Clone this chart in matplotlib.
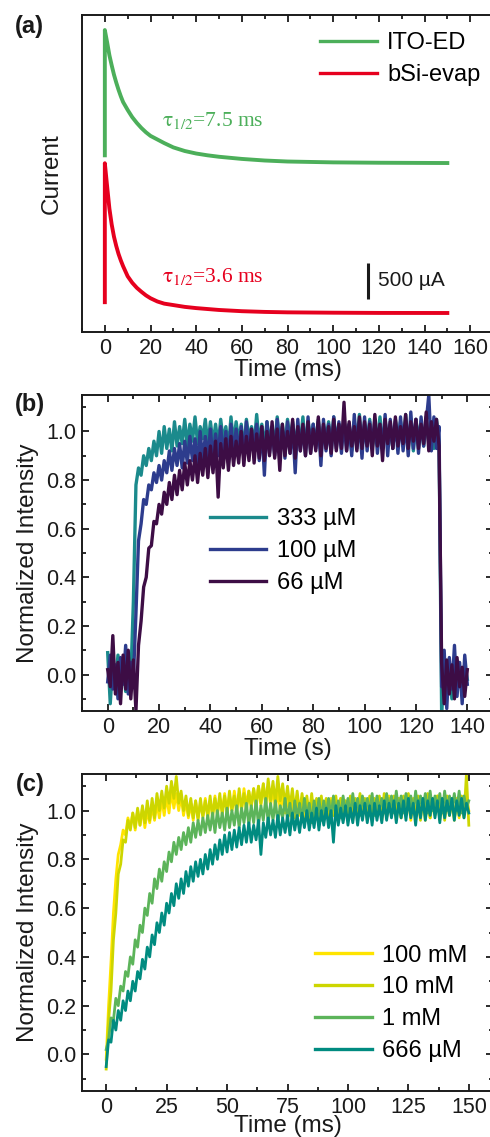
import numpy as np
import matplotlib
matplotlib.use('Agg')
import matplotlib.pyplot as plt
from matplotlib.ticker import MultipleLocator

# ---------------- data: panel (a) ----------------
a_time = [0, 0, 1, 2, 3, 4, 5, 6, 7, 8, 10, 12, 14, 16, 18, 20, 23, 26, 30, 35,
          40, 45, 50, 60, 70, 80, 100, 120, 150]
a_ito = [2190, 3930, 3760, 3580, 3440, 3310, 3200, 3100, 3010, 2930, 2820, 2720,
         2640, 2570, 2510, 2460, 2410, 2360, 2300, 2250, 2215, 2190, 2170, 2140,
         2118, 2104, 2092, 2087, 2083]
a_bsi = [150, 2080, 1760, 1450, 1230, 1060, 930, 820, 730, 650, 510, 420, 350,
         295, 245, 205, 160, 130, 110, 85, 68, 55, 42, 25, 15, 9, 4, 1, 0]
a_labels = ['ITO-ED', 'bSi-evap']
a_tau = ['7.5', '3.6']

# ---------------- data: panel (b) ----------------
b_time = np.arange(0, 141)
b_333 = [0.09, -0.12, 0.05, -0.05, 0.08, -0.04, 0.06, -0.07, 0.04, -0.02,
         0.30, 0.78, 0.85, 0.82, 0.90, 0.86, 0.93, 0.88, 0.96, 0.90,
         1.00, 0.91, 1.02, 0.93, 1.01, 0.92, 1.04, 0.94, 1.02, 0.95,
         1.05, 0.94, 1.03, 0.96, 1.06, 0.95, 1.02, 0.97, 1.05, 0.94,
         1.04,
         0.95, 1.03, 0.94, 1.05, 0.96, 1.02, 0.93, 1.06, 0.95, 1.04,
         0.96, 1.03, 0.92, 1.05, 0.97, 1.02, 0.94, 1.07, 0.95, 1.03,
         0.93, 1.04, 0.96, 1.02, 0.94, 1.06, 0.95, 1.03, 0.92, 1.05,
         0.96, 1.04, 0.94, 1.02, 0.95, 1.06, 0.93, 1.04, 0.96, 1.03,
         0.94, 1.05, 0.95, 1.02, 0.97, 1.04, 0.93, 1.06, 0.95, 1.03,
         0.96, 1.05, 0.94, 1.03, 0.92, 1.04, 0.96, 1.07, 0.94, 1.03,
         0.95, 1.05, 0.93, 1.02, 0.96, 1.06, 0.94, 1.04, 0.95, 1.03,
         0.93, 1.05, 0.96, 1.04, 0.94, 1.07, 0.95, 1.03, 0.92, 1.05,
         0.96, 1.04, 0.94, 1.06, 0.95, 1.03, 0.93, 1.05, 0.96,
         -0.15, 0.05, -0.08, 0.03, -0.10, 0.06, -0.04, 0.02, -0.07, 0.04, -0.02]
b_100 = [-0.03, 0.08, -0.06, 0.04, -0.10, 0.07, -0.04, 0.12, -0.08, 0.05,
         -0.02, 0.25, 0.55, 0.62, 0.72, 0.70, 0.78, 0.76, 0.83, 0.79,
         0.86, 0.80, 0.88, 0.83, 0.92, 0.84, 0.93, 0.86, 0.95, 0.85,
         0.96, 0.87, 0.98, 0.88, 0.97, 0.86, 1.00, 0.88, 0.98, 0.89,
         1.01, 0.88, 0.99, 0.90, 1.02, 0.89, 1.00, 0.87, 1.03, 0.90,
         1.01, 0.91, 1.02, 0.89, 1.04, 0.90, 1.01, 0.92, 1.03, 0.88,
         1.02, 0.82, 1.04, 0.91, 1.01, 0.90, 1.05, 0.92, 1.02, 0.89,
         1.04, 0.91, 1.03, 0.83, 1.05, 0.92, 1.02, 0.90, 1.06, 0.91,
         1.03, 0.93, 1.04, 0.86, 1.05, 0.92, 1.03, 0.90, 1.06, 0.93,
         1.04, 0.91, 1.05, 0.92, 1.03, 0.90, 1.07, 0.93, 1.04, 0.89,
         1.06, 0.92, 1.04, 0.94, 1.05, 0.91, 1.03, 0.93, 1.07, 0.90,
         1.05, 0.93, 1.04, 0.91, 1.06, 0.92, 1.04, 0.90, 1.08, 0.93,
         1.05, 0.91, 1.06, 0.94, 1.04, 1.15, 0.92, 1.06, 0.93, 1.02,
         -0.05, 0.10, -0.14, 0.07, -0.06, 0.12, -0.09, 0.05, -0.12, 0.08, -0.04]
b_66 = [0.02, -0.05, 0.16, -0.08, 0.05, -0.12, 0.08, -0.06, 0.10, -0.10,
        0.06, -0.15, 0.12, 0.22, 0.36, 0.40, 0.52, 0.53, 0.63, 0.62,
        0.70, 0.66, 0.75, 0.70, 0.79, 0.72, 0.82, 0.74, 0.84, 0.76,
        0.87, 0.78, 0.88, 0.80, 0.90, 0.79, 0.91, 0.82, 0.93, 0.81,
        0.94, 0.83, 0.96, 0.73, 0.95, 0.85, 0.97, 0.84, 0.98, 0.86,
        0.96, 0.87, 1.00, 0.86, 0.98, 0.88, 1.01, 0.87, 0.99, 0.89,
        1.02, 0.88, 1.00, 0.90, 1.04, 0.89, 1.01, 0.84, 1.03, 0.90,
        1.00, 0.91, 1.05, 0.89, 1.02, 0.92, 1.03, 0.90, 1.04, 0.91,
        1.01, 0.92, 1.06, 0.90, 1.03, 0.93, 1.02, 0.91, 1.05, 0.92,
        1.03, 0.93, 1.12, 0.92, 1.04, 0.94, 1.02, 0.92, 1.06, 0.93,
        1.04, 0.94, 1.03, 0.90, 1.07, 0.94, 1.03, 0.88, 1.05, 0.95,
        1.04, 0.93, 1.06, 0.94, 1.02, 0.95, 1.07, 0.93, 1.04, 0.96,
        1.05, 0.93, 1.03, 0.95, 1.08, 0.92, 1.04, 0.96, 1.05, 0.94,
        0.05, -0.12, 0.06, -0.08, 0.04, -0.10, 0.07, -0.05, 0.03, -0.09, 0.02]
b_labels = ['333 µM', '100 µM', '66 µM']

# ---------------- data: panel (c) ----------------
c_time = np.arange(0, 151)
c_100mM = [-0.02, 0.20, 0.38, 0.58, 0.72, 0.82, 0.86, 0.92, 0.90, 0.97,
           0.93, 0.99, 0.92, 1.00, 0.94, 1.01, 0.93, 1.00, 0.95, 1.02,
           0.96, 1.03, 0.97, 1.05, 0.98, 1.06, 0.99, 1.08, 1.01, 1.07,
           1.00, 1.06, 0.98, 1.04, 0.97, 1.03, 0.96, 1.04, 0.97, 1.03,
           0.98, 1.05, 0.97, 1.04, 0.99, 1.06, 0.98, 1.05, 1.00, 1.07,
           0.99, 1.06, 1.00, 1.08, 1.01, 1.07, 1.00, 1.09, 1.02, 1.08,
           1.01, 1.09, 1.03, 1.10, 1.02, 1.11, 1.03, 1.10, 1.02, 1.09,
           1.01, 1.08, 1.00, 1.07, 0.99, 1.06, 0.98, 1.05, 0.97, 1.06,
           0.98, 1.05, 0.97, 1.04, 0.96, 1.05, 0.98, 1.04, 0.97, 1.05,
           0.96, 1.04, 0.97, 1.05, 0.98, 1.04, 0.96, 1.05, 0.97, 1.04,
           0.98, 1.05, 0.96, 1.04, 0.97, 1.06, 0.98, 1.04, 0.96, 1.05,
           0.97, 1.04, 0.98, 1.05, 0.96, 1.04, 0.97, 1.06, 0.98, 1.04,
           0.96, 1.05, 0.97, 1.04, 0.98, 1.05, 0.96, 1.04, 0.97, 1.05,
           0.98, 1.04, 0.96, 1.05, 0.97, 1.04, 0.98, 1.06, 0.96, 1.04,
           0.97, 1.05, 0.98, 1.04, 0.96, 1.05, 0.97, 1.04, 0.98, 1.05, 1.00]
c_10mM = [-0.06, 0.14, 0.26, 0.47, 0.58, 0.74, 0.78, 0.88, 0.87, 0.96,
          0.92, 0.99, 0.93, 1.01, 0.94, 1.02, 0.95, 1.04, 0.96, 1.05,
          0.97, 1.07, 1.00, 1.08, 1.01, 1.10, 1.03, 1.12, 1.05, 1.14,
          1.03, 1.08, 1.00, 1.06, 0.98, 1.05, 0.97, 1.04, 0.96, 1.05,
          0.97, 1.04, 0.98, 1.06, 0.97, 1.05, 0.99, 1.07, 0.98, 1.06,
          0.99, 1.08, 1.00, 1.06, 0.99, 1.09, 1.01, 1.07, 1.00, 1.08,
          1.02, 1.09, 1.01, 1.10, 1.03, 1.11, 1.02, 1.13, 1.04, 1.12,
          1.03, 1.14, 1.04, 1.11, 1.02, 1.10, 1.01, 1.09, 1.00, 1.08,
          0.99, 1.07, 1.00, 1.06, 0.98, 1.07, 0.97, 1.05, 0.99, 1.06,
          0.97, 1.05, 0.96, 1.04, 0.98, 1.06, 0.97, 1.05, 0.96, 1.04,
          0.98, 1.06, 0.97, 1.05, 0.99, 1.07, 0.97, 1.05, 0.98, 1.06,
          0.97, 1.05, 0.99, 1.06, 0.98, 1.07, 0.97, 1.05, 0.99, 1.06,
          0.98, 1.05, 0.97, 1.06, 0.99, 1.07, 0.98, 1.05, 0.97, 1.06,
          0.96, 1.05, 0.98, 1.07, 0.97, 1.05, 0.99, 1.06, 0.98, 1.05,
          0.96, 1.06, 0.98, 1.05, 0.97, 1.04, 0.99, 1.06, 0.97, 1.15, 0.94]
c_1mM = [0.02, 0.06, 0.15, 0.14, 0.23, 0.20, 0.28, 0.26, 0.34, 0.32,
         0.40, 0.37, 0.47, 0.44, 0.53, 0.50, 0.60, 0.57, 0.66, 0.62,
         0.72, 0.68, 0.76, 0.71, 0.79, 0.75, 0.83, 0.79, 0.87, 0.82,
         0.89, 0.84, 0.91, 0.86, 0.93, 0.87, 0.95, 0.89, 0.96, 0.90,
         0.97, 0.91, 0.98, 0.92, 0.99, 0.91, 1.00, 0.93, 0.99, 0.92,
         1.01, 0.93, 1.00, 0.94, 1.02, 0.93, 1.01, 0.95, 1.03, 0.94,
         1.02, 0.95, 1.04, 0.94, 1.02, 0.96, 1.05, 0.95, 1.03, 0.96,
         1.04, 0.95, 1.02, 0.97, 1.05, 0.96, 1.03, 0.95, 1.04, 0.97,
         1.03, 0.96, 1.05, 0.97, 1.03, 0.95, 1.04, 0.97, 1.05, 0.96,
         1.04, 0.98, 1.05, 0.97, 1.06, 0.98, 1.04, 0.97, 1.06, 0.99,
         1.05, 0.98, 1.07, 0.99, 1.05, 0.98, 1.06, 1.00, 1.05, 0.99,
         1.07, 0.98, 1.06, 1.00, 1.05, 0.99, 1.07, 1.00, 1.06, 0.99,
         1.08, 1.00, 1.06, 0.99, 1.07, 1.01, 1.06, 0.99, 1.08, 1.00,
         1.06, 1.01, 1.07, 0.99, 1.08, 1.00, 1.06, 1.01, 1.07, 0.99,
         1.08, 1.00, 1.06, 1.01, 1.07, 1.00, 1.08, 0.99, 1.06, 1.01, 1.04]
c_666uM = [-0.05, 0.06, 0.05, 0.14, 0.10, 0.18, 0.14, 0.22, 0.18, 0.26,
           0.22, 0.30, 0.26, 0.34, 0.31, 0.39, 0.35, 0.44, 0.40, 0.49,
           0.45, 0.54, 0.50, 0.58, 0.53, 0.62, 0.58, 0.66, 0.61, 0.70,
           0.64, 0.72, 0.66, 0.75, 0.69, 0.77, 0.71, 0.79, 0.73, 0.80,
           0.74, 0.82, 0.76, 0.84, 0.78, 0.86, 0.80, 0.88, 0.82, 0.90,
           0.83, 0.91, 0.84, 0.92, 0.85, 0.93, 0.86, 0.94, 0.87, 0.95,
           0.87, 0.94, 0.88, 0.96, 0.82, 0.95, 0.89, 0.97, 0.90, 0.96,
           0.89, 0.98, 0.90, 0.97, 0.91, 0.98, 0.90, 0.99, 0.92, 0.98,
           0.91, 0.99, 0.93, 1.00, 0.92, 0.99, 0.93, 1.01, 0.92, 1.00,
           0.94, 1.01, 0.93, 1.00, 0.87, 1.02, 0.94, 1.01, 0.95, 1.02,
           0.94, 1.01, 0.95, 1.03, 0.94, 1.02, 0.96, 1.03, 0.95, 1.02,
           0.94, 1.03, 0.96, 1.02, 0.95, 1.04, 0.96, 1.03, 0.97, 1.04,
           0.95, 1.03, 0.97, 1.04, 0.96, 1.05, 0.97, 1.03, 0.94, 1.04,
           0.97, 1.05, 0.96, 1.04, 0.98, 1.05, 0.97, 1.04, 0.95, 1.05,
           0.97, 1.04, 0.98, 1.05, 0.96, 1.04, 0.98, 1.05, 0.97, 1.03, 0.99]
c_labels = ['100 mM', '10 mM', '1 mM', '666 µM']

# ---------------- style ----------------
plt.rcParams['font.family'] = ['Liberation Sans', 'DejaVu Sans']
plt.rcParams['mathtext.fontset'] = 'stix'
INK = '#1a1a1a'
W, H = 490, 1137

fig = plt.figure(figsize=(W / 100, H / 100), dpi=100)


def rect(l, r, t, b):
    return [l / W, 1 - b / H, (r - l) / W, (b - t) / H]


def style(ax, xmaj, xmin, yaxis=True):
    for s in ax.spines.values():
        s.set_linewidth(1.4)
        s.set_color(INK)
    ax.xaxis.set_major_locator(MultipleLocator(xmaj))
    ax.xaxis.set_minor_locator(MultipleLocator(xmin))
    ax.tick_params(which='both', direction='in', top=True, bottom=True,
                   left=yaxis, right=yaxis, labelleft=yaxis,
                   labelsize=15.5, width=1.3, color=INK, labelcolor=INK, pad=4)
    ax.tick_params(which='major', length=5)
    ax.tick_params(which='minor', length=3)
    if yaxis:
        ax.yaxis.set_major_locator(MultipleLocator(0.2))
        ax.yaxis.set_minor_locator(MultipleLocator(0.1))


def leg(ax, x, y, lw=None):
    lg = ax.legend(loc='upper left', bbox_to_anchor=(x, y), frameon=False,
                   fontsize=17, handlelength=2.4, handletextpad=0.45,
                   labelspacing=0.42, borderpad=0, borderaxespad=0)
    if lw:
        for lh in lg.get_lines():
            lh.set_linewidth(lw)


# ---------------- panel (a) ----------------
axA = fig.add_axes(rect(82, 493, 15, 332))
axA.plot(a_time, a_ito, color='#4caf5a', lw=2.8, solid_joinstyle='round', label=a_labels[0])
axA.plot(a_time, a_bsi, color='#e6001e', lw=2.8, solid_joinstyle='round', label=a_labels[1])
axA.set_xlim(-10, 170)
axA.set_ylim(-264, 4139)
style(axA, 20, 10, yaxis=False)
axA.set_yticks([])
axA.set_xlabel('Time (ms)', fontsize=17.5, labelpad=0, color=INK)
axA.set_ylabel('Current', fontsize=17.5, labelpad=14, color=INK)
axA.text(25, 2680, r'$\mathrm{\tau}_{1/2}$=' + a_tau[0] + ' ms', color='#4caf5a',
         fontsize=15.5, family='Liberation Serif', va='center', ha='left')
axA.text(25, 500, r'$\mathrm{\tau}_{1/2}$=' + a_tau[1] + ' ms', color='#e6001e',
         fontsize=15.5, family='Liberation Serif', va='center', ha='left')
axA.plot([115.3, 115.3], [194, 694], color=INK, lw=2.2, solid_capstyle='butt')
axA.text(119.5, 458, '500 µA', fontsize=15, va='center', ha='left', color=INK)
leg(axA, 0.579, 0.945, lw=2.4)
fig.text(29 / W, 1 - 27 / H, '(a)', fontsize=17, fontweight='bold', ha='center', va='center', color=INK)

# ---------------- panel (b) ----------------
axB = fig.add_axes(rect(82, 493, 395, 711))
axB.plot(b_time, b_333, color='#1b8a8c', lw=2.4, label=b_labels[0])
axB.plot(b_time, b_100, color='#2d3c8d', lw=2.4, label=b_labels[1])
axB.plot(b_time, b_66, color='#3d0d45', lw=2.4, label=b_labels[2])
axB.set_xlim(-10, 150)
axB.set_ylim(-0.15, 1.15)
style(axB, 20, 10)
axB.set_xlabel('Time (s)', fontsize=17.5, labelpad=0, color=INK)
axB.set_ylabel('Normalized Intensity', fontsize=17.5, labelpad=5, color=INK)
leg(axB, 0.311, 0.642, lw=2.4)
fig.text(30 / W, 1 - 405 / H, '(b)', fontsize=17, fontweight='bold', ha='center', va='center', color=INK)

# ---------------- panel (c) ----------------
axC = fig.add_axes(rect(82, 493, 774, 1091))
axC.plot(c_time, c_100mM, color='#ffe400', lw=2.0, label=c_labels[0])
axC.plot(c_time, c_10mM, color='#cdd600', lw=2.0, label=c_labels[1])
axC.plot(c_time, c_1mM, color='#5cb45a', lw=2.0, label=c_labels[2])
axC.plot(c_time, c_666uM, color='#008b80', lw=2.0, label=c_labels[3])
axC.set_xlim(-10, 160)
axC.set_ylim(-0.15, 1.15)
style(axC, 25, 12.5)
axC.set_xlabel('Time (ms)', fontsize=17.5, labelpad=-1.5, color=INK)
axC.set_ylabel('Normalized Intensity', fontsize=17.5, labelpad=5, color=INK)
leg(axC, 0.567, 0.462, lw=2.4)
fig.text(30 / W, 1 - 785 / H, '(c)', fontsize=17, fontweight='bold', ha='center', va='center', color=INK)

fig.savefig('out.png', dpi=100)
